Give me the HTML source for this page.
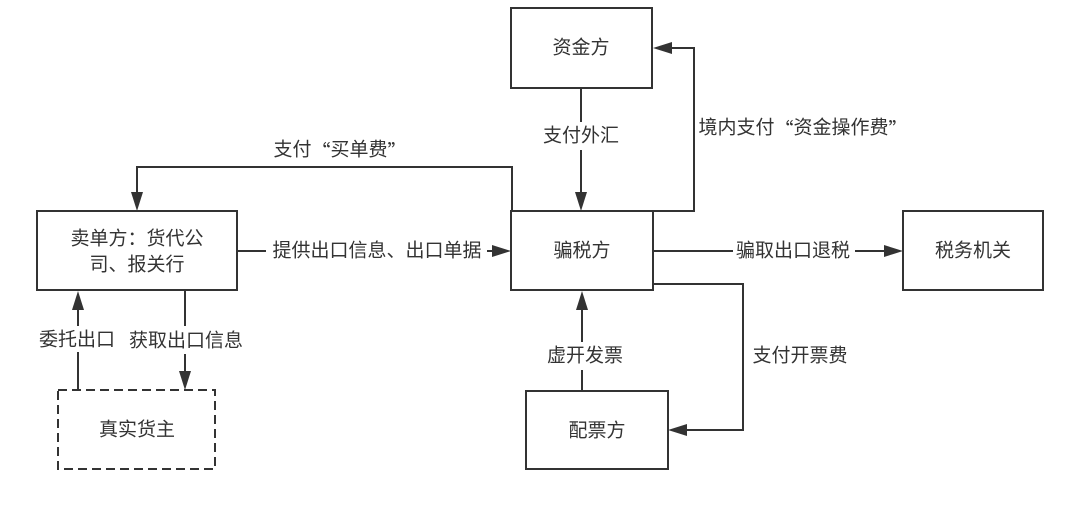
<!DOCTYPE html>
<html>
<head>
<meta charset="utf-8">
<style>
  html,body{margin:0;padding:0;background:#fff;}
  body{width:1080px;height:506px;overflow:hidden;}
  svg{display:block;}
  text{font-family:"Liberation Sans","Noto Sans CJK SC",sans-serif;font-size:19px;fill:#333;}
  .q{font-family:"Noto Sans CJK SC","Liberation Sans",sans-serif;}
</style>
</head>
<body>
<svg width="1080" height="506" viewBox="0 0 1080 506" xmlns="http://www.w3.org/2000/svg">
  <g fill="none" stroke="#333" stroke-width="2">
    <!-- 支付买单费 -->
    <path d="M512,211 V167 H137 V194"/>
    <!-- 提供出口信息 -->
    <path d="M238,251 H494"/>
    <!-- 支付外汇 -->
    <path d="M581,88 V194"/>
    <!-- 境内支付资金操作费 -->
    <path d="M653,211 H694 V48 H670"/>
    <!-- 骗取出口退税 -->
    <path d="M653,251 H885"/>
    <!-- 委托出口 -->
    <path d="M78,390 V308"/>
    <!-- 获取出口信息 -->
    <path d="M185,291 V373"/>
    <!-- 虚开发票 -->
    <path d="M582,390 V308"/>
    <!-- 支付开票费 -->
    <path d="M653,284 H743 V430 H685"/>
  </g>
  <!-- arrowheads -->
  <g fill="#333" stroke="none">
    <polygon points="137,211 131,192 143,192"/>
    <polygon points="511,251 492,245 492,257"/>
    <polygon points="581,211 575,192 587,192"/>
    <polygon points="653,48 672,42 672,54"/>
    <polygon points="903,251 884,245 884,257"/>
    <polygon points="78,291 72,310 84,310"/>
    <polygon points="185,390 179,371 191,371"/>
    <polygon points="582,291 576,310 588,310"/>
    <polygon points="668,430 687,424 687,436"/>
  </g>
  <!-- boxes -->
  <g fill="#fff" stroke="#333" stroke-width="2">
    <rect x="511" y="8" width="141" height="80"/>
    <rect x="37" y="211" width="200" height="79"/>
    <rect x="511" y="211" width="142" height="79"/>
    <rect x="903" y="211" width="140" height="79"/>
    <rect x="526" y="391" width="142" height="78"/>
  </g>
  <rect x="58" y="390" width="157" height="79" fill="#fff" stroke="#333" stroke-width="2" stroke-dasharray="9 5"/>
  <!-- label backgrounds -->
  <g fill="#fff" stroke="none">
    <rect x="266" y="240" width="221" height="22"/>
    <rect x="541" y="122" width="80" height="28"/>
    <rect x="733" y="240" width="122" height="22"/>
    <rect x="38" y="326" width="80" height="26"/>
    <rect x="126" y="326" width="120" height="28"/>
    <rect x="545" y="342" width="80" height="28"/>
  </g>
  <!-- box texts -->
  <g text-anchor="middle" dominant-baseline="central">
    <text x="581" y="48">资金方</text>
    <text x="137" y="239">卖单方：货代公</text>
    <text x="137" y="265">司、报关行</text>
    <text x="582" y="251">骗税方</text>
    <text x="973" y="251">税务机关</text>
    <text x="137" y="430">真实货主</text>
    <text x="597" y="431">配票方</text>
    <!-- connector labels -->
    <text x="340" y="150">支付<tspan class="q">“</tspan>买单费<tspan class="q">”</tspan></text>
    <text x="377" y="251">提供出口信息、出口单据</text>
    <text x="581" y="136">支付外汇</text>
    <text x="803" y="128">境内支付<tspan class="q">“</tspan>资金操作费<tspan class="q">”</tspan></text>
    <text x="793" y="251">骗取出口退税</text>
    <text x="77" y="340">委托出口</text>
    <text x="186" y="341">获取出口信息</text>
    <text x="585" y="356">虚开发票</text>
    <text x="800" y="356">支付开票费</text>
  </g>
</svg>
</body>
</html>
